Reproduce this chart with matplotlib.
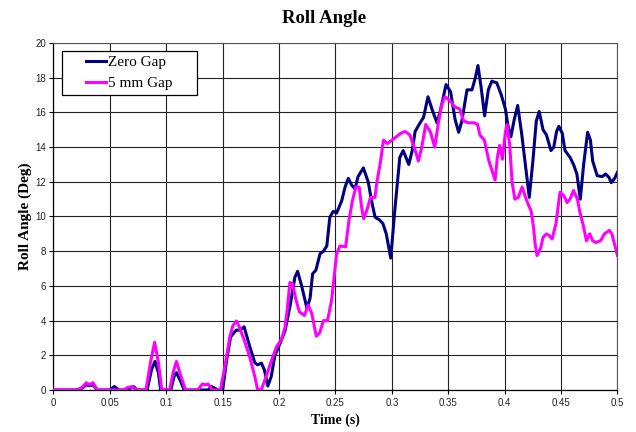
import numpy as np
import matplotlib
matplotlib.use('Agg')
import matplotlib.pyplot as plt
from matplotlib.legend_handler import HandlerLine2D

# Zero Gap series (time in s, roll angle in deg)
zero_t = [0.000, 0.020, 0.025, 0.029, 0.032, 0.035, 0.039, 0.050, 0.054, 0.058,
          0.064, 0.068, 0.071, 0.074, 0.083, 0.087, 0.090, 0.093, 0.095, 0.104,
          0.107, 0.109, 0.112, 0.116, 0.137, 0.140, 0.143, 0.146, 0.150, 0.1534,
          0.157, 0.162, 0.165, 0.169, 0.174, 0.1785, 0.181, 0.1844, 0.187, 0.190,
          0.193, 0.1963, 0.201, 0.2052, 0.2096, 0.214, 0.2164, 0.220, 0.2247, 0.2275,
          0.2297, 0.2326, 0.2363, 0.2393, 0.2423, 0.245, 0.248, 0.251, 0.2555, 0.2585,
          0.2614, 0.2644, 0.2673, 0.270, 0.2747, 0.279, 0.282, 0.2851, 0.289, 0.292,
          0.295, 0.299, 0.3025, 0.307, 0.310, 0.315, 0.318, 0.3206, 0.325, 0.328,
          0.332, 0.336, 0.340, 0.343, 0.348, 0.352, 0.356, 0.3592, 0.362, 0.3666,
          0.371, 0.374, 0.3763, 0.379, 0.3822, 0.3855, 0.3886, 0.393, 0.397, 0.4006,
          0.403, 0.4055, 0.4085, 0.4115, 0.415, 0.419, 0.4218, 0.425, 0.428, 0.4306,
          0.434, 0.437, 0.441, 0.4435, 0.446, 0.448, 0.451, 0.4535, 0.458, 0.461,
          0.464, 0.467, 0.470, 0.4735, 0.476, 0.478, 0.482, 0.4865, 0.4895, 0.4925,
          0.4945, 0.4975, 0.500]
zero_v = [0, 0, 0.1, 0.3, 0.25, 0.3, 0, 0, 0.2, 0,
          0, 0.1, 0.2, 0, 0, 1.2, 1.65, 1.0, 0, 0,
          0.8, 1.0, 0.6, 0, 0, 0.2, 0.1, 0, 0, 1.7,
          3.06, 3.45, 3.45, 3.64, 2.5, 1.57, 1.45, 1.55, 1.15, 0.23,
          0.77, 2.0, 2.7, 3.4, 4.8, 6.5, 6.84, 6.0, 4.7, 5.3,
          6.7, 6.9, 7.85, 8.0, 8.3, 9.96, 10.3, 10.2, 10.9, 11.7,
          12.2, 11.8, 11.6, 12.3, 12.8, 12.0, 10.9, 9.96, 9.8, 9.6,
          9.0, 7.6, 10.3, 13.4, 13.8, 13.0, 13.8, 14.9, 15.4, 15.7,
          16.9, 16.1, 15.4, 16.1, 17.6, 17.2, 15.6, 14.85, 15.5, 17.3,
          17.3, 18.0, 18.7, 17.5, 15.8, 17.3, 17.8, 17.7, 17.0, 16.2,
          15.2, 14.6, 15.6, 16.4, 14.8, 12.6, 11.1, 13.2, 15.5, 16.05,
          15.0, 14.7, 13.8, 14.0, 14.9, 15.2, 14.8, 13.8, 13.4, 13.0,
          12.45, 11.0, 13.0, 14.85, 14.4, 13.2, 12.35, 12.3, 12.45, 12.25,
          11.95, 12.2, 12.55]

# 5 mm Gap series
gap_t = [0.000, 0.022, 0.026, 0.029, 0.032, 0.035, 0.039, 0.062, 0.066, 0.070,
         0.073, 0.082, 0.086, 0.0897, 0.093, 0.096, 0.103, 0.106, 0.109, 0.112,
         0.117, 0.128, 0.132, 0.135, 0.137, 0.141, 0.148, 0.1518, 0.1563, 0.159,
         0.1622, 0.165, 0.1696, 0.174, 0.1785, 0.181, 0.1845, 0.1889, 0.1933, 0.1978,
         0.202, 0.2052, 0.207, 0.2096, 0.212, 0.215, 0.218, 0.2225, 0.2258, 0.229,
         0.233, 0.236, 0.2393, 0.243, 0.2466, 0.251, 0.254, 0.259, 0.262, 0.265,
         0.268, 0.271, 0.273, 0.275, 0.278, 0.281, 0.285, 0.2865, 0.290, 0.2925,
         0.296, 0.300, 0.304, 0.308, 0.3117, 0.316, 0.3197, 0.3235, 0.3265, 0.330,
         0.334, 0.338, 0.341, 0.344, 0.347, 0.351, 0.356, 0.360, 0.3637, 0.368,
         0.373, 0.376, 0.378, 0.382, 0.386, 0.3915, 0.3935, 0.3955, 0.398, 0.4005,
         0.402, 0.4045, 0.4065, 0.409, 0.412, 0.4155, 0.419, 0.4235, 0.4257, 0.427,
         0.4287, 0.432, 0.434, 0.437, 0.4395, 0.442, 0.4455, 0.449, 0.4525, 0.4554,
         0.458, 0.461, 0.4645, 0.4667, 0.4696, 0.4725, 0.4754, 0.478, 0.4807, 0.485,
         0.4884, 0.4928, 0.495, 0.500]
gap_v = [0, 0, 0.2, 0.42, 0.3, 0.42, 0, 0, 0.15, 0.2,
         0, 0, 1.6, 2.75, 1.6, 0, 0, 1.0, 1.65, 1.0,
         0, 0, 0.35, 0.3, 0.35, 0, 0, 1.3, 3.06, 3.7,
         3.98, 3.6, 2.78, 1.9, 0.77, 0.0, 0.05, 0.86, 1.7, 2.5,
         2.9, 3.6, 4.5, 6.2, 6.1, 5.2, 4.5, 4.3, 4.9, 4.4,
         3.1, 3.3, 4.0, 4.0, 5.2, 7.85, 8.3, 8.25, 9.8, 10.9,
         11.7, 11.7, 10.6, 9.87, 10.4, 11.1, 11.1, 11.9, 13.2, 14.4,
         14.2, 14.4, 14.6, 14.8, 14.9, 14.7, 14.0, 13.2, 14.0, 15.3,
         14.9, 14.0, 15.3, 16.4, 16.9, 16.7, 16.3, 16.2, 15.5, 15.4,
         15.4, 15.3, 14.7, 14.4, 13.2, 12.1, 13.4, 14.1, 13.3, 14.8,
         15.3, 14.1, 12.0, 11.0, 11.1, 11.7, 11.0, 10.3, 9.3, 8.4,
         7.75, 8.2, 8.8, 9.0, 8.9, 8.7, 9.6, 11.4, 11.2, 10.8,
         11.0, 11.5, 11.0, 10.25, 9.5, 8.6, 9.0, 8.6, 8.5, 8.6,
         9.0, 9.2, 9.0, 7.75]

series_labels = ['Zero Gap', '5 mm Gap']
x_ticks = [0, 0.05, 0.1, 0.15, 0.2, 0.25, 0.3, 0.35, 0.4, 0.45, 0.5]
x_tick_labels = ['0', '0.05', '0.1', '0.15', '0.2', '0.25', '0.3', '0.35', '0.4', '0.45', '0.5']
y_ticks = [0, 2, 4, 6, 8, 10, 12, 14, 16, 18, 20]


class RightLine(HandlerLine2D):
    # legend line drawn only on the right part of the handle box (Excel style)
    def get_xdata(self, legend, xdescent, ydescent, width, height, fontsize):
        x = np.array([-xdescent + width * 0.5, -xdescent + width])
        return x, x


serif = 'Liberation Serif'
plt.rcParams['font.family'] = 'Liberation Sans'

fig = plt.figure(figsize=(6.36, 4.32), dpi=100)
ax = fig.add_axes([0.0841, 0.0972, 0.8868, 0.8033])

l1, = ax.plot(zero_t, zero_v, color='#000080', lw=2.2, label=series_labels[0], zorder=3)
l2, = ax.plot(gap_t, gap_v, color='#FF00FF', lw=2.2, label=series_labels[1], zorder=3)

ax.set_xlim(0, 0.5)
ax.set_ylim(0, 20)
ax.set_xticks(x_ticks)
ax.set_xticklabels(x_tick_labels)
ax.set_yticks(y_ticks)
ax.tick_params(labelsize=7, length=3, width=0.8, direction='out', pad=2.5, labelcolor='#222222')
ax.grid(True, color='#222222', lw=0.8)
ax.set_axisbelow(True)
for s in ['top', 'right']:
    ax.spines[s].set_color('#555555')
    ax.spines[s].set_linewidth(0.8)
for s in ['left', 'bottom']:
    ax.spines[s].set_linewidth(0.9)

fig.text(0.510, 0.958, 'Roll Angle', fontsize=13.5, fontweight='bold',
         family=serif, ha='center', va='center')
ax.set_xlabel('Time (s)', fontsize=10, fontweight='bold', family=serif, labelpad=4)
ax.set_ylabel('Roll Angle (Deg)', fontsize=11, fontweight='bold', family=serif, labelpad=2.5)

leg = ax.legend(handles=[l1, l2], loc='upper left', mode='expand',
                bbox_to_anchor=(0.015, 0.978, 0.239, 0), borderaxespad=0,
                prop={'family': serif, 'size': 11}, frameon=True, fancybox=False,
                edgecolor='black', framealpha=1, handlelength=2.6,
                handletextpad=0.1, labelspacing=0.5, borderpad=0.3,
                handler_map={l1: RightLine(numpoints=2), l2: RightLine(numpoints=2)})
leg.get_frame().set_linewidth(0.9)

fig.savefig('out.png', dpi=100)
